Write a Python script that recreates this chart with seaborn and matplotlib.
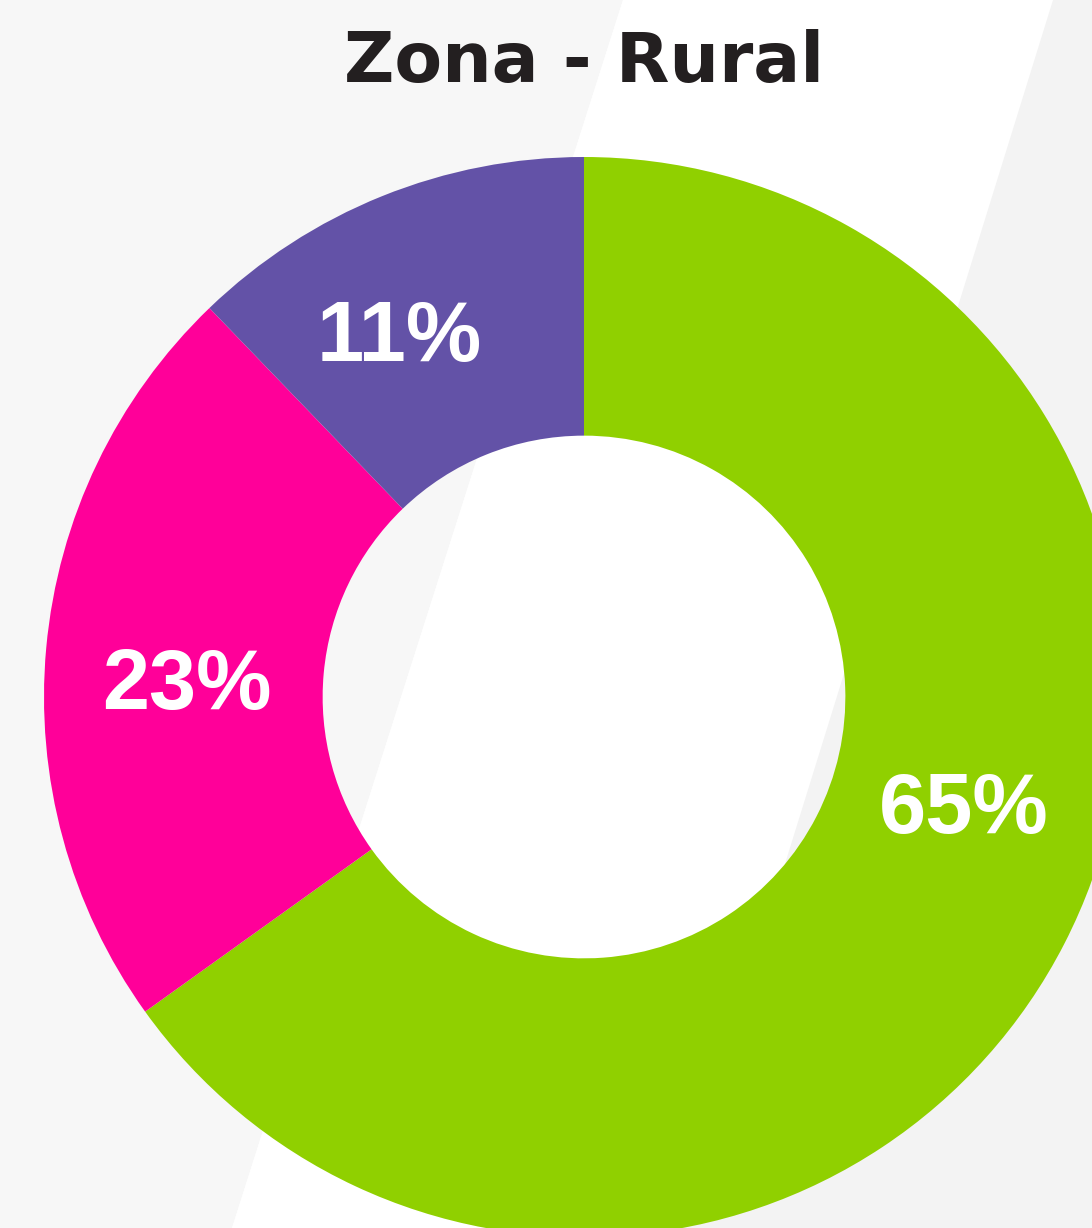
import numpy as np
import seaborn as sns
import matplotlib.pyplot as plt
from matplotlib.patches import Polygon

# data
categories = ["Verde", "Rosa", "Morado"]
shares = [65.1, 22.7, 12.2]           # slice sizes measured from the angles
label_text = ["65%", "23%", "11%"]    # labels as printed on the chart
title = "Zona - Rural"

colors = ["#90d000", "#ff0099", "#6352a7"]

sns.set_theme(style="white")
plt.rcParams['font.family'] = ['Liberation Sans', 'DejaVu Sans']

W, H = 1092, 1228
fig = plt.figure(figsize=(W / 100, H / 100), dpi=100)
fig.patch.set_facecolor("white")

# background: grey / white diagonal band / grey
bg = fig.add_axes([0, 0, 1, 1])
bg.set_xlim(0, W)
bg.set_ylim(H, 0)
bg.axis("off")
bg.add_patch(Polygon([(0, 0), (623, 0), (232, H), (0, H)], color="#f7f7f7", lw=0))
bg.add_patch(Polygon([(623, 0), (1053, 0), (672, H), (232, H)], color="white", lw=0))
bg.add_patch(Polygon([(1053, 0), (W, 0), (W, H), (672, H)], color="#f3f3f3", lw=0))

# donut, outer radius 540 px, centre at (584, 697) px
cx, cy, r = 584, 697, 540
ax = fig.add_axes([(cx - r) / W, (H - cy - r) / H, 2 * r / W, 2 * r / H])
ax.patch.set_alpha(0)
wedges, _ = ax.pie(shares, colors=sns.color_palette(colors), startangle=90,
                   counterclock=False, radius=1,
                   wedgeprops=dict(width=0.516, linewidth=0))
ax.set_xlim(-1, 1)
ax.set_ylim(-1, 1)
ax.axis("off")

# label placement: mid angle of each wedge, nudged like the original
nudge = [11.6, 2.6, 4.8]
lab_r = [0.731, 0.736, 0.760]
cap = 30 / r
for w, txt, dn, rr in zip(wedges, label_text, nudge, lab_r):
    ang = np.deg2rad((w.theta1 + w.theta2) / 2 + dn)
    ax.text(rr * np.cos(ang), rr * np.sin(ang) - cap, txt, ha="center", va="baseline",
            fontsize=61, fontweight="bold", color="white")

fig.text(cx / W, 1 - 82 / H, title, ha="center", va="baseline", fontsize=50,
         fontweight="bold", color="#231f20", family=["DejaVu Sans"])

fig.savefig("out.png", dpi=100)
